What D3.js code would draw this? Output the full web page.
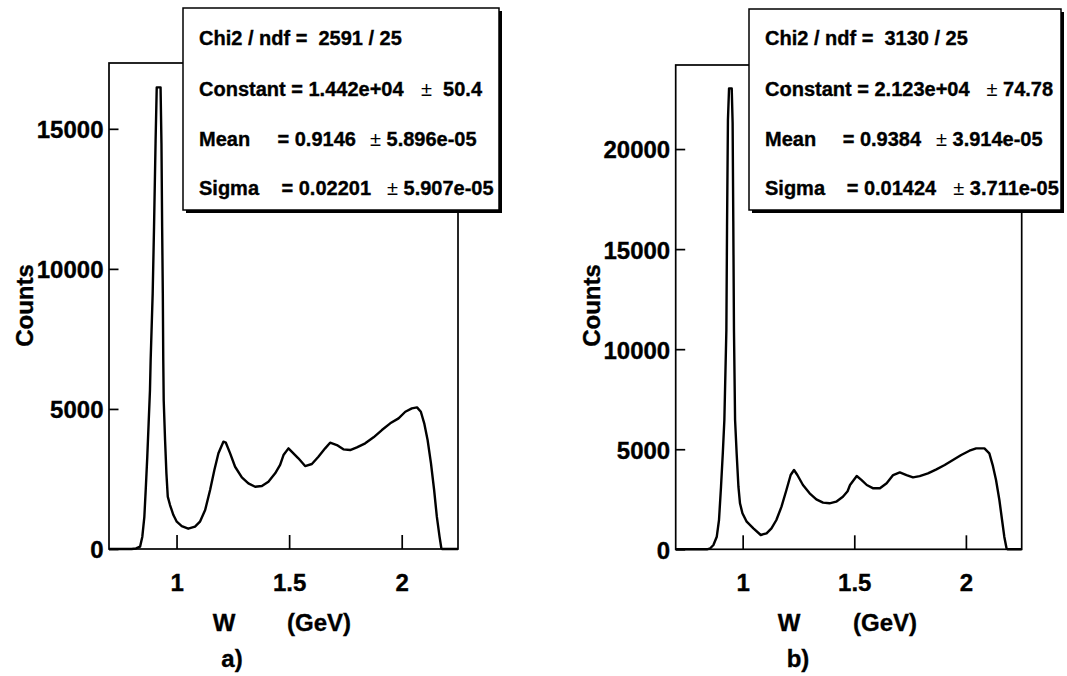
<!DOCTYPE html>
<html>
<head>
<meta charset="utf-8">
<script src="https://cdn.jsdelivr.net/npm/d3@7"></script>
<style>
  html, body { margin: 0; padding: 0; background: #fff; }
  svg { display: block; }
  text { font-family: "Liberation Sans", Arial, Helvetica, sans-serif; font-weight: bold; fill: #000;
         stroke: #000; stroke-width: 0.35px; }
  tspan.pm { font-weight: normal; stroke-width: 0; }
</style>
</head>
<body>
<svg id="chart" width="1067" height="676"></svg>
<script>
// ---- Panel a): W distribution (GeV) and counts per bin ----
const wA = [0.70, 0.80, 0.82, 0.838, 0.848, 0.857, 0.863, 0.870, 0.876, 0.882, 0.885, 0.894, 0.900, 0.907,
  0.912, 0.929, 0.933, 0.936, 0.939, 0.941, 0.943, 0.949, 0.955, 0.961, 0.971, 0.986, 1.001, 1.023, 1.052,
  1.082, 1.104, 1.127, 1.149, 1.168, 1.186, 1.208, 1.219, 1.238, 1.260, 1.290, 1.319, 1.349, 1.379, 1.408,
  1.438, 1.460, 1.475, 1.497, 1.519, 1.541, 1.571, 1.601, 1.630, 1.660, 1.682, 1.712, 1.741, 1.771, 1.801,
  1.838, 1.875, 1.912, 1.949, 1.986, 2.016, 2.045, 2.068, 2.085, 2.100, 2.115, 2.130, 2.144, 2.156, 2.168,
  2.176, 2.180, 2.25];
const countsA = [0, 0, 20, 82, 440, 1150, 2100, 3290, 4480, 5675, 6745, 9126, 11500, 14600,
  16480, 16480, 14480, 11500, 9126, 6745, 5300, 3890, 2700, 1870, 1570, 1213, 975, 820, 725,
  797, 975, 1390, 2106, 2820, 3415, 3830, 3795, 3415, 2937, 2559, 2345, 2224, 2248, 2402,
  2700, 3000, 3355, 3593, 3415, 3237, 2962, 3034, 3294, 3593, 3795, 3712, 3558, 3533, 3630,
  3772, 3987, 4247, 4486, 4664, 4900, 5021, 5057, 4900, 4486, 3890, 3059, 2106, 1153, 439,
  25, 0, 0];

// ---- Panel b) ----
const wB = [0.70, 0.84, 0.855, 0.869, 0.884, 0.894, 0.903, 0.911, 0.918, 0.927, 0.930, 0.934, 0.939, 0.951,
  0.955, 0.958, 0.961, 0.966, 0.973, 0.981, 0.988, 0.999, 1.018, 1.048, 1.081, 1.107, 1.129, 1.151, 1.174,
  1.196, 1.215, 1.230, 1.245, 1.270, 1.300, 1.330, 1.360, 1.389, 1.419, 1.449, 1.470, 1.481, 1.511, 1.533,
  1.556, 1.585, 1.615, 1.645, 1.674, 1.704, 1.734, 1.763, 1.793, 1.830, 1.868, 1.905, 1.942, 1.979, 2.016,
  2.046, 2.083, 2.105, 2.120, 2.135, 2.150, 2.162, 2.172, 2.182, 2.186, 2.25];
const countsB = [0, 0, 50, 215, 630, 1464, 3128, 4797, 6460, 10960, 16120, 21450, 23030, 23030,
  21300, 16400, 10960, 6460, 4797, 3128, 2298, 1800, 1380, 1050, 715, 800, 1050, 1464, 2130,
  2963, 3712, 3962, 3712, 3213, 2798, 2498, 2330, 2298, 2380, 2630, 2900, 3213, 3660, 3460,
  3213, 3047, 3047, 3297, 3712, 3845, 3712, 3595, 3660, 3795, 3995, 4210, 4460, 4710, 4925,
  5045, 5045, 4797, 4210, 3460, 2463, 1464, 630, 50, 0, 0];

// ---- Axes ----
const xDomain = [0.7, 2.25];
const xTicks = [1, 1.5, 2];
const xTickLabels = ["1", "1.5", "2"];
const yTicksA = [0, 5000, 10000, 15000];
const yTicksB = [0, 5000, 10000, 15000, 20000];
const yMaxA = 17350;
const yMaxB = 24200;

// ---- Fit results (stat boxes): [label, value, error] ----
const chi2A = "Chi2 / ndf =  2591 / 25";
const fitA = [["Constant = 1.442e+04", "", "  50.4"], ["Mean", "= 0.9146", " 5.896e-05"], ["Sigma", "= 0.02201", " 5.907e-05"]];
const chi2B = "Chi2 / ndf =  3130 / 25";
const fitB = [["Constant = 2.123e+04", "", " 74.78"], ["Mean", "= 0.9384", " 3.914e-05"], ["Sigma", "= 0.01424", " 3.711e-05"]];

const svg = d3.select("#chart");

function drawPanel(cfg) {
  const g = svg.append("g");
  const x = d3.scaleLinear().domain(xDomain).range([cfg.left, cfg.right]);
  const y = d3.scaleLinear().domain([0, cfg.yMax]).range([cfg.bottom, cfg.top]);

  // histogram
  const line = d3.line().x((d, i) => x(cfg.w[i])).y(d => y(d)).curve(d3.curveLinear);
  g.append("path")
    .datum(cfg.counts)
    .attr("d", line)
    .attr("fill", "none")
    .attr("stroke", "#000")
    .attr("stroke-width", 2.4)
    .attr("stroke-linejoin", "round");

  // frame
  g.append("rect")
    .attr("x", cfg.left).attr("y", cfg.top)
    .attr("width", cfg.right - cfg.left).attr("height", cfg.bottom - cfg.top)
    .attr("fill", "none").attr("stroke", "#000").attr("stroke-width", 1.7);

  // y axis (ticks pointing inward)
  const ya = g.append("g")
    .attr("transform", `translate(${cfg.left},0)`)
    .call(d3.axisLeft(y).tickValues(cfg.yTicks).tickFormat(d3.format("d")).tickSize(-9.5).tickPadding(5.5));
  ya.select(".domain").remove();
  ya.selectAll(".tick line").attr("stroke", "#000").attr("stroke-width", 1.7);
  ya.selectAll(".tick text").attr("font-size", 24).attr("dy", "0.37em")
    .style("font-family", '"Liberation Sans", Arial, sans-serif').style("font-weight", "bold");

  // x axis
  const xa = g.append("g")
    .attr("transform", `translate(0,${cfg.bottom})`)
    .call(d3.axisBottom(x).tickValues(xTicks).tickFormat((d, i) => xTickLabels[i]).tickSize(-14).tickPadding(24.5));
  xa.select(".domain").remove();
  xa.selectAll(".tick line").attr("stroke", "#000").attr("stroke-width", 1.7);
  xa.selectAll(".tick text").attr("font-size", 24)
    .style("font-family", '"Liberation Sans", Arial, sans-serif').style("font-weight", "bold");

  // axis titles
  g.append("text").attr("x", cfg.left - 76).attr("y", cfg.countsY)
    .attr("transform", `rotate(-90,${cfg.left - 76},${cfg.countsY})`)
    .attr("text-anchor", "middle").attr("font-size", 24).text("Counts");
  g.append("text").attr("x", cfg.wX).attr("y", 631).attr("text-anchor", "middle").attr("font-size", 24).text("W");
  g.append("text").attr("x", cfg.gevX).attr("y", 631).attr("font-size", 24).text("(GeV)");
  g.append("text").attr("x", cfg.tagX).attr("y", 667).attr("text-anchor", "middle").attr("font-size", 24).text(cfg.tag);

  // stat box with shadow
  const b = cfg.box;
  g.append("rect").attr("x", b.x + 3).attr("y", b.y + 3).attr("width", b.w).attr("height", b.h).attr("fill", "#000");
  g.append("rect").attr("x", b.x).attr("y", b.y).attr("width", b.w).attr("height", b.h)
    .attr("fill", "#fff").attr("stroke", "#000").attr("stroke-width", 1.5);

  const tx = b.x + 16;
  const rows = [44.5, 96, 146, 195];
  const st = g.append("g").attr("font-size", 20);
  st.append("text").attr("x", tx).attr("y", rows[0]).text(cfg.chi2);
  for (let k = 0; k < 3; k++) {
    st.append("text").attr("x", tx).attr("y", rows[k + 1]).text(cfg.fit[k][0]);
    if (cfg.fit[k][1]) st.append("text").attr("x", b.x + b.eq[k]).attr("y", rows[k + 1]).text(cfg.fit[k][1]);
    const e = st.append("text").attr("x", b.x + b.pm[k]).attr("y", rows[k + 1]);
    e.append("tspan").attr("class", "pm").text("\u00b1");
    e.append("tspan").text(cfg.fit[k][2]);
  }
  st.selectAll("text").style("white-space", "pre");
}

drawPanel({
  left: 109, right: 458, top: 63, bottom: 549, yMax: yMaxA,
  w: wA, counts: countsA, yTicks: yTicksA,
  countsY: 305.5, wX: 224, gevX: 287, tagX: 232, tag: "a)",
  chi2: chi2A, fit: fitA,
  box: { x: 183, y: 8, w: 316, h: 202, pm: [238, 187, 204], eq: [0, 94.5, 98.5] }
});

drawPanel({
  left: 675.7, right: 1021.7, top: 65, bottom: 549.3, yMax: yMaxB,
  w: wB, counts: countsB, yTicks: yTicksB,
  countsY: 305.5, wX: 789, gevX: 853, tagX: 798, tag: "b)",
  chi2: chi2B, fit: fitB,
  box: { x: 749, y: 9, w: 312, h: 201, pm: [237.5, 187, 204.3], eq: [0, 93.7, 97.7] }
});
</script>
</body>
</html>
